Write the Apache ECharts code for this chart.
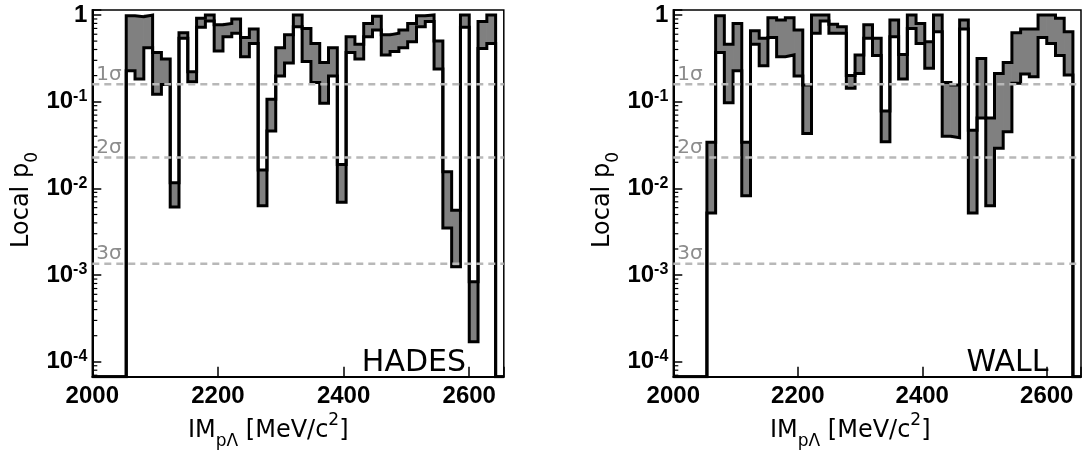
<!DOCTYPE html>
<html>
<head>
<meta charset="utf-8">
<script src="https://cdn.jsdelivr.net/npm/echarts@6/dist/echarts.min.js"></script>
<style>
  html, body { margin: 0; padding: 0; background: #fff; }
  #chart { width: 1084px; height: 456px; }
</style>
</head>
<body>
<div id="chart"></div>
<script>
// bin edges in MeV/c^2 (14 MeV bins starting at the p-Lambda threshold)
const binEdges = [2054, 2068, 2082, 2096, 2110, 2124, 2138, 2152, 2166, 2180, 2194,
  2208, 2222, 2236, 2250, 2264, 2278, 2292, 2306, 2320, 2334, 2348, 2362, 2376,
  2390, 2404, 2418, 2432, 2446, 2460, 2474, 2488, 2502, 2516, 2530, 2544, 2558,
  2572, 2586, 2600, 2614, 2628, 2642];

// local p0, upper and lower edge of the grey band, per bin
const hadesUpper = [0.98, 0.955, 1.0, 0.37, 0.31, 0.0116, 0.625, 0.222, 0.915, 1.0,
  0.77, 0.80, 0.90, 0.55, 0.69, 0.0163, 0.107, 0.42, 0.59, 1.0, 0.70, 0.47, 0.284,
  0.42, 0.0189, 0.56, 0.46, 0.80, 0.97, 0.59, 0.615, 0.67, 0.80, 0.98, 1.0, 0.50,
  0.0156, 0.0056, 1.0, 0.00084, 0.84, 1.0];
const hadesLower = [0.228, 0.183, 0.42, 0.122, 0.158, 0.0061, 0.54, 0.17, 0.72, 0.85,
  0.385, 0.56, 0.615, 0.33, 0.47, 0.0063, 0.046, 0.198, 0.28, 0.73, 0.29, 0.167, 0.096,
  0.198, 0.0069, 0.37, 0.31, 0.56, 0.67, 0.346, 0.38, 0.42, 0.49, 0.73, 0.84, 0.238,
  0.0035, 0.00125, 0.72, 0.00017, 0.41, 0.47];

const wallUpper = [0.034, 0.98, 0.46, 0.80, 0.034, 0.66, 0.54, 0.93, 0.875, 0.93,
  0.67, 0.156, 1.0, 1.0, 0.78, 0.73, 0.20, 0.346, 0.77, 0.54, 0.078, 0.875, 0.35,
  1.0, 0.80, 0.49, 1.0, 0.167, 0.156, 0.875, 0.047, 0.316, 0.065, 0.212, 0.284,
  0.625, 0.69, 0.69, 1.0, 1.0, 0.92, 0.64];
const wallLower = [0.0052, 0.37, 0.097, 0.228, 0.0082, 0.46, 0.26, 0.55, 0.33, 0.346,
  0.198, 0.043, 0.615, 0.85, 0.615, 0.615, 0.143, 0.212, 0.54, 0.34, 0.0346, 0.56,
  0.183, 0.70, 0.47, 0.243, 0.64, 0.040, 0.0385, 0.69, 0.0052, 0.065, 0.0063, 0.029,
  0.045, 0.163, 0.209, 0.194, 0.55, 0.47, 0.34, 0.203];

// one-sided p-values of 1, 2, 3 sigma
const sigmaValues = [0.1587, 0.02275, 0.00135];
const sigmaLabels = ['1σ', '2σ', '3σ'];

const X_MIN = 2000, X_MAX = 2655, X_STEP = 200;
const Y_MIN = 6.73e-5, Y_MAX = 1.142;

const panels = [
  { upper: hadesUpper, lower: hadesLower, left: 92.3, width: 411.5 },
  { upper: wallUpper, lower: wallLower, left: 673.3, width: 412.5 }
];

const FONT = 'DejaVu Sans';
const TICKFONT = 'Liberation Sans';

function stepData(vals) {
  let d = [[X_MIN, Y_MIN]];
  for (let i = 0; i < vals.length; i++) d.push([binEdges[i], vals[i]]);
  d.push([binEdges[vals.length], Y_MIN]);
  d.push([X_MAX, Y_MIN]);
  return d;
}

function bandData(up, lo) {
  let d = [];
  for (let i = 0; i < up.length; i++) d.push([binEdges[i], binEdges[i + 1], lo[i], up[i]]);
  return d;
}

// minor ticks of the log axis (2..9 x 10^k)
let minorVals = [];
for (let k = -5; k <= 0; k++) {
  for (let m = 2; m <= 9; m++) {
    let v = m * Math.pow(10, k);
    if (v > Y_MIN && v < Y_MAX) minorVals.push(v);
  }
}

function yLabel(v) {
  let e = Math.log10(v);
  let r = Math.round(e);
  if (Math.abs(e - r) > 0.01) return '';
  if (r === 0) return '{b|1}';
  return '{b|10}{s|' + r + '}';
}

let grids = [], xAxes = [], yAxes = [], series = [];

panels.forEach(function (p, i) {
  grids.push({
    left: p.left, top: 10, width: p.width, height: 366.7,
    show: true, borderColor: '#000', borderWidth: 1.5
  });
  xAxes.push({
    type: 'value', gridIndex: i, min: X_MIN, max: X_MAX, interval: X_STEP,
    axisLine: { lineStyle: { color: '#000', width: 2 } },
    axisTick: { inside: true, length: 10, lineStyle: { color: '#000', width: 1.5 } },
    axisLabel: {
      color: '#000', fontSize: 24, fontWeight: 'bold', fontFamily: TICKFONT, margin: 8,
      formatter: function (v) { return (v - X_MIN) % X_STEP === 0 ? String(v) : ''; }
    },
    splitLine: { show: false }
  });
  yAxes.push({
    type: 'log', logBase: 10, gridIndex: i, min: Y_MIN, max: Y_MAX,
    axisLine: { show: true, onZero: false, lineStyle: { color: '#000', width: 2 } },
    axisTick: { inside: true, length: 9, lineStyle: { color: '#000', width: 1.5 } },
    axisLabel: {
      margin: 5, formatter: yLabel,
      rich: {
        b: { fontSize: 24, fontWeight: 'bold', fontFamily: TICKFONT, color: '#000', lineHeight: 26 },
        s: { fontSize: 16, fontWeight: 'bold', fontFamily: TICKFONT, color: '#000', lineHeight: 16, verticalAlign: 'top' }
      }
    },
    splitLine: { show: false }
  });

  // grey band between the two curves
  series.push({
    type: 'custom', xAxisIndex: i, yAxisIndex: i, z: 1, silent: true,
    encode: { x: [0, 1], y: [2, 3] },
    data: bandData(p.upper, p.lower),
    renderItem: function (params, api) {
      let a = api.coord([api.value(0), api.value(3)]);
      let b = api.coord([api.value(1), api.value(2)]);
      return {
        type: 'rect',
        shape: { x: a[0], y: a[1], width: b[0] - a[0], height: b[1] - a[1] },
        style: { fill: '#808080', stroke: '#808080', lineWidth: 1 }
      };
    }
  });

  [p.upper, p.lower].forEach(function (vals) {
    series.push({
      type: 'line', xAxisIndex: i, yAxisIndex: i, z: 2, silent: true,
      step: 'end', showSymbol: false, symbol: 'none', animation: false,
      data: stepData(vals),
      lineStyle: { color: '#000', width: 3, join: 'miter' }
    });
  });

  // minor ticks on the y axis
  series.push({
    type: 'custom', xAxisIndex: i, yAxisIndex: i, z: 3, silent: true, clip: false,
    data: minorVals.map(function (v) { return [X_MIN, v]; }),
    renderItem: function (params, api) {
      let c = api.coord([X_MIN, api.value(1)]);
      return {
        type: 'line',
        shape: { x1: c[0], y1: c[1], x2: c[0] + 5, y2: c[1] },
        style: { stroke: '#000', lineWidth: 1.2 }
      };
    }
  });

  // sigma levels: dashed line across the panel plus its label
  series.push({
    type: 'custom', xAxisIndex: i, yAxisIndex: i, z: 5, silent: true, clip: false,
    encode: { x: 0, y: 1 },
    data: sigmaValues.map(function (v, k) { return [X_MIN, v, k]; }),
    renderItem: function (params, api) {
      let y = api.coord([X_MIN, api.value(1)])[1];
      let cs = params.coordSys;
      return {
        type: 'group',
        children: [{
          type: 'line',
          shape: { x1: cs.x, y1: y, x2: cs.x + cs.width, y2: y },
          style: { stroke: '#b8b8b8', lineWidth: 2.6, lineDash: [7, 5] }
        }, {
          type: 'text', x: cs.x + 4, y: y + 0.5,
          style: {
            text: sigmaLabels[api.value(2)], fill: '#8c8c8c', fontSize: 20, fontFamily: FONT,
            align: 'left', verticalAlign: 'bottom'
          }
        }]
      };
    }
  });
});

const titleRich = {
  m: { fontSize: 24, fontFamily: FONT, fill: '#000', lineHeight: 38 },
  sub: { fontSize: 17, fontFamily: FONT, fill: '#000', lineHeight: 21, verticalAlign: 'bottom' },
  sup: { fontSize: 17, fontFamily: FONT, fill: '#000', lineHeight: 17, verticalAlign: 'top' }
};

function xTitle(x) {
  return {
    type: 'text', x: x, y: 431,
    style: {
      text: '{m|IM}{sub|pΛ}{m| [MeV/c}{sup|2}{m|]}', rich: titleRich,
      align: 'left', verticalAlign: 'middle'
    }
  };
}
function yTitle(x) {
  return {
    type: 'text', x: x, y: 200, rotation: Math.PI / 2,
    style: {
      text: '{m|Local p}{sub|0}', rich: titleRich,
      align: 'center', verticalAlign: 'middle'
    }
  };
}
function tag(x, txt) {
  return {
    type: 'text', x: x, y: 363,
    style: { text: txt, fontSize: 30, fontFamily: FONT, fill: '#000', align: 'right', verticalAlign: 'middle' }
  };
}

const chart = echarts.init(document.getElementById('chart'), null, { renderer: 'canvas' });
chart.setOption({
  backgroundColor: '#fff',
  animation: false,
  grid: grids,
  xAxis: xAxes,
  yAxis: yAxes,
  series: series,
  graphic: [xTitle(188), xTitle(770), yTitle(22), yTitle(603), tag(466, 'HADES'), tag(1048.5, 'WALL')]
});
</script>
</body>
</html>
